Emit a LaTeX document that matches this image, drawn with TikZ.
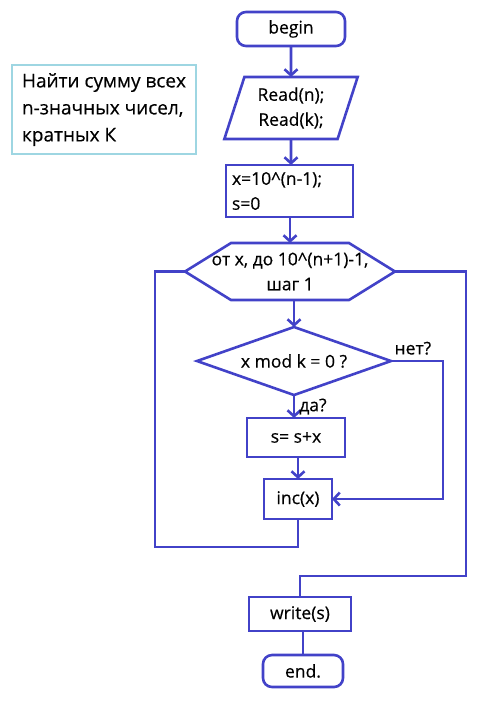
\documentclass[tikz,border=0pt]{standalone}
\usepackage{fontspec}
\setmainfont{Open Sans}[FakeBold=0.4]
\usepackage{xcolor}
\usetikzlibrary{shapes.geometric, arrows.meta, positioning}
\definecolor{flowblue}{RGB}{66,66,200}
\definecolor{noteblue}{RGB}{158,214,226}

\begin{document}
\begin{tikzpicture}[x=1pt, y=-1pt, node distance=26pt, line width=2.6pt, color=flowblue, text=black,
    >={Straight Barb[length=6pt, width=13pt]}, font=\fontsize{17.5}{25}\selectfont,
    every node/.append style={outer sep=0pt},
    startstop/.style={draw, rectangle, rounded corners=9pt, minimum width=108pt, minimum height=34pt},
    io/.style={draw, trapezium, trapezium left angle=71, trapezium right angle=109, trapezium stretches=true, minimum width=134pt, minimum height=62pt, align=center, inner sep=1pt},
    process/.style={draw, rectangle, minimum height=40pt, align=left},
    loophead/.style={rectangle, minimum width=210pt, minimum height=57pt, align=center, inner sep=1pt},
    decision/.style={draw, diamond, aspect=2.85, minimum width=194pt, minimum height=68pt, align=center, inner sep=1pt},
    note/.style={draw=noteblue, rectangle, minimum width=184pt, minimum height=89pt, align=left, inner sep=2pt, font=\fontsize{19}{27}\selectfont}]

    \useasboundingbox (0,0) rectangle (500,721);

    % Nodes
    \node (begin) [startstop] at (291,29) {begin};
    \node (task) [note, anchor=north west] at (12,65) {Найти сумму всех\\n-значных чисел,\\кратных К};
    \node (read) [io, below=31pt of begin] {Read(n);\\Read(k);};
    \node (init) [process, below=of read, xshift=-1.5pt, minimum width=127pt, minimum height=52pt, inner sep=1pt, text width=115pt] {x=10\textasciicircum(n-1);\\s=0};
    \node (loop) [loophead, below=of init, xshift=0.5pt] {от x, до 10\textasciicircum(n+1)-1,\\шаг 1};
    \draw ([xshift=46pt]loop.north west) -- ([xshift=-46pt]loop.north east) -- (loop.east)
        -- ([xshift=-46pt]loop.south east) -- ([xshift=46pt]loop.south west) -- (loop.west) -- cycle;
    \node (check) [decision, below=27pt of loop, xshift=4pt] {x mod k = 0 ?};
    \node (add) [process, below=23pt of check, xshift=2pt, minimum width=98pt, minimum height=39pt] {s= s+x};
    \node (inc) [process, below=22pt of add, xshift=2pt, minimum width=68pt] {inc(x)};
    \node (write) [process, below=78pt of inc, xshift=2pt, minimum width=102pt, minimum height=34pt, align=center] {write(s)};
    \node (end) [startstop, below=24pt of write, xshift=3pt, minimum width=80pt, minimum height=32pt] {end.};

    % Links
    \draw[->] (begin) -- (read);
    \draw[->] (read) -- (read |- init.north);
    \draw[->] (init.south -| loop) -- (loop.north);
    \draw[->] (loop.south -| check) -- (check);
    \draw[->] (check.south) -- node[right, xshift=2pt] {да?} (check.south |- add.north);
    \draw[->] (inc.north |- add.south) -- (inc.north);
    \draw[->] (check.east) -- node[above, pos=0.42, yshift=3pt] {нет?} ++(52,0) |- (inc.east);
    \draw (inc.south) -- ++(0,28) -| ([xshift=-30pt]loop.west) -- (loop.west);
    \draw (loop.east) -- ++(71,0) |- ([yshift=21pt]write.north) -- (write.north);
    \draw (end.north |- write.south) -- (end.north);
\end{tikzpicture}
\end{document}
